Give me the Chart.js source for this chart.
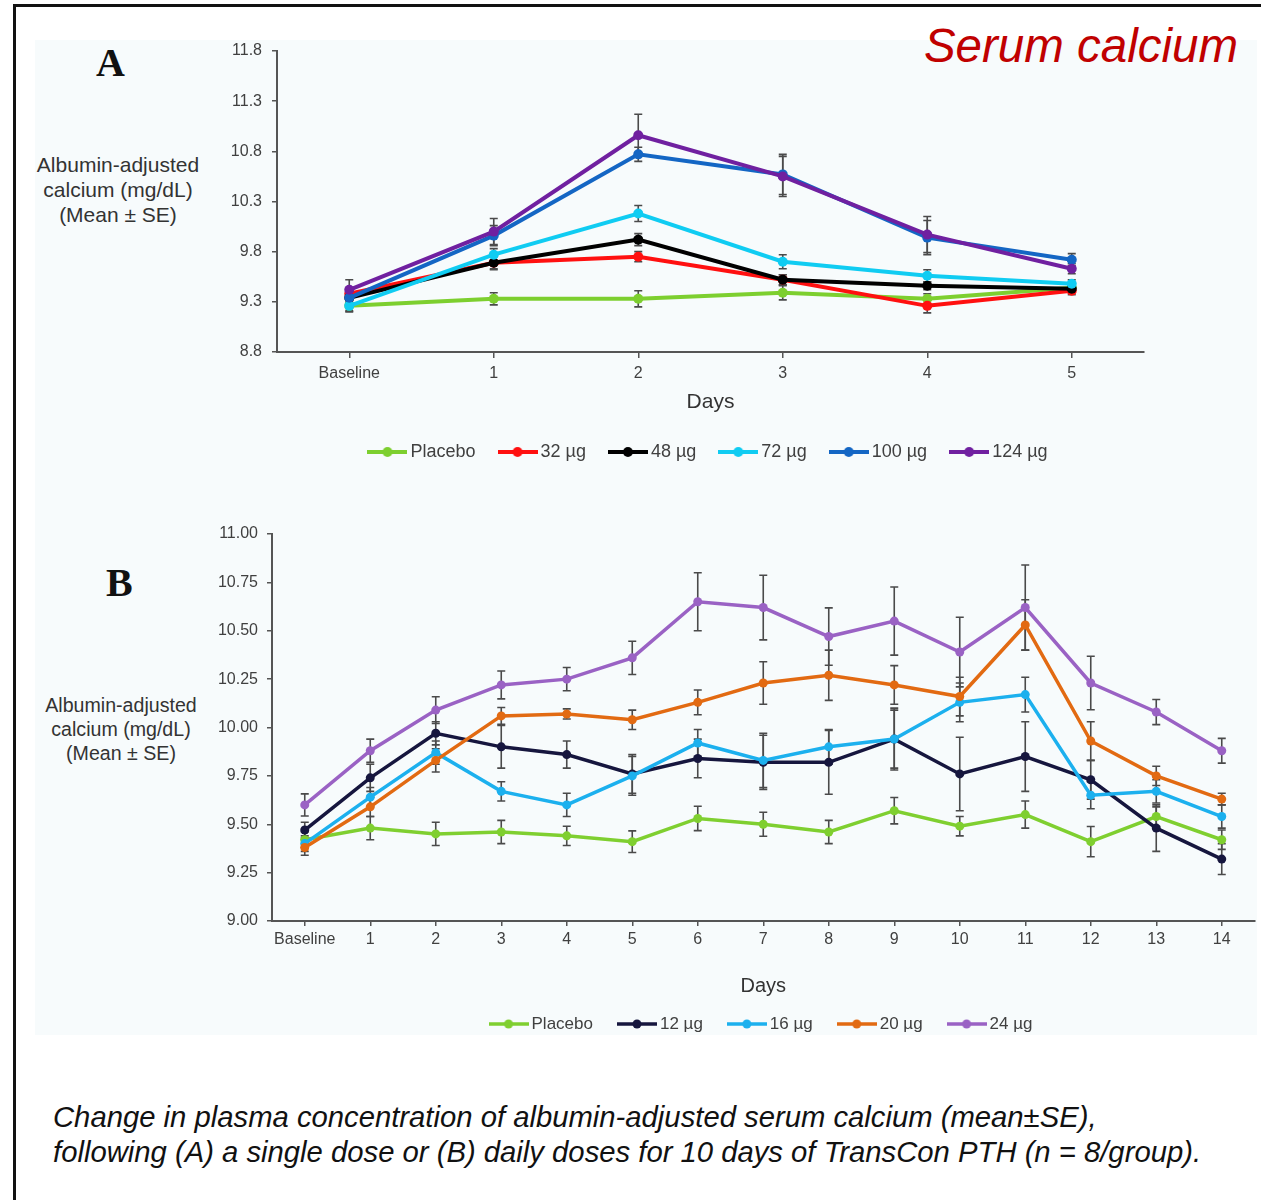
<!DOCTYPE html>
<html>
<head>
<meta charset="utf-8">
<script src="https://cdn.jsdelivr.net/npm/chart.js@4.4.1/dist/chart.umd.min.js"></script>
<style>
html, body { margin: 0; padding: 0; background: #fff; overflow: hidden; }
body { width: 1261px; height: 1200px; position: relative; font-family: "Liberation Sans", Arial, sans-serif; }
#frame { position: absolute; left: 13px; top: 4px; width: 1300px; height: 1300px; border: 3px solid #111; box-sizing: border-box; }
#panel { position: absolute; left: 35px; top: 40px; width: 1222px; height: 995px; background: #f7fbfc; }
.box { position: absolute; }
.ylab { position: absolute; text-align: center; color: #333; white-space: nowrap; }
.letter { position: absolute; font-family: "Liberation Serif", "Times New Roman", serif; font-weight: bold; font-size: 40px; line-height: 40px; color: #111; }
#title { position: absolute; right: 23px; top: 22px; font-size: 47.5px; line-height: 47.5px; font-style: italic; color: #c00000; }
#caption { position: absolute; left: 53px; top: 1100px; font-size: 29.25px; line-height: 35px; font-style: italic; color: #111; white-space: nowrap; }
</style>
</head>
<body>
<div id="frame"></div>
<div id="panel"></div>
<div id="title">Serum calcium</div>
<div class="letter" style="left:96px;top:43px;">A</div>
<div class="letter" style="left:106px;top:563px;">B</div>
<div class="ylab" style="left:18px;width:200px;top:152px;font-size:21px;line-height:25px;">Albumin-adjusted<br>calcium (mg/dL)<br>(Mean ± SE)</div>
<div class="ylab" style="left:21px;width:200px;top:693px;font-size:19.6px;line-height:24px;">Albumin-adjusted<br>calcium (mg/dL)<br>(Mean ± SE)</div>
<div class="box" style="left:30px;top:30px;"><canvas id="chartA" width="1220" height="441"></canvas></div>
<div class="box" style="left:30px;top:500px;"><canvas id="chartB" width="1231" height="543"></canvas></div>
<div id="caption">Change in plasma concentration of albumin-adjusted serum calcium (mean±SE),<br>following (A) a single dose or (B) daily doses for 10 days of TransCon PTH (n = 8/group).</div>

<script>
// ---- panel A: single dose ----
const daysA = ['Baseline', '1', '2', '3', '4', '5'];
const seriesA = ['Placebo', '32 µg', '48 µg', '72 µg', '100 µg', '124 µg'];
const placeboA = [9.26, 9.33, 9.33, 9.39, 9.33, 9.44];
const dose32 = [9.38, 9.69, 9.75, 9.52, 9.26, 9.41];
const dose48 = [9.34, 9.69, 9.92, 9.52, 9.46, 9.43];
const dose72 = [9.26, 9.77, 10.18, 9.70, 9.56, 9.48];
const dose100 = [9.34, 9.96, 10.77, 10.57, 9.94, 9.72];
const dose124 = [9.42, 10.00, 10.96, 10.55, 9.97, 9.63];
const sePlaceboA = [0.05, 0.06, 0.08, 0.07, 0.05, 0.04];
const se32 = [0.05, 0.06, 0.05, 0.05, 0.07, 0.04];
const se48 = [0.05, 0.07, 0.06, 0.05, 0.04, 0.04];
const se72 = [0.06, 0.06, 0.08, 0.07, 0.06, 0.04];
const se100 = [0.05, 0.10, 0.07, 0.20, 0.17, 0.06];
const se124 = [0.10, 0.13, 0.21, 0.20, 0.18, 0.05];
const ticksA = [8.8, 9.3, 9.8, 10.3, 10.8, 11.3, 11.8];

// ---- panel B: daily doses ----
const daysB = ['Baseline', '1', '2', '3', '4', '5', '6', '7', '8', '9', '10', '11', '12', '13', '14'];
const seriesB = ['Placebo', '12 µg', '16 µg', '20 µg', '24 µg'];
const placeboB = [9.42, 9.48, 9.45, 9.46, 9.44, 9.41, 9.53, 9.50, 9.46, 9.57, 9.49, 9.55, 9.41, 9.54, 9.42];
const dose12 = [9.47, 9.74, 9.97, 9.90, 9.86, 9.76, 9.84, 9.82, 9.82, 9.94, 9.76, 9.85, 9.73, 9.48, 9.32];
const dose16 = [9.40, 9.64, 9.87, 9.67, 9.60, 9.75, 9.92, 9.83, 9.90, 9.94, 10.13, 10.17, 9.65, 9.67, 9.54];
const dose20 = [9.38, 9.59, 9.83, 10.06, 10.07, 10.04, 10.13, 10.23, 10.27, 10.22, 10.16, 10.53, 9.93, 9.75, 9.63];
const dose24 = [9.60, 9.88, 10.09, 10.22, 10.25, 10.36, 10.65, 10.62, 10.47, 10.55, 10.39, 10.62, 10.23, 10.08, 9.88];
const sePlaceboB = [0.04, 0.06, 0.06, 0.06, 0.05, 0.056, 0.063, 0.062, 0.06, 0.068, 0.05, 0.07, 0.078, 0.05, 0.05];
const se12 = [0.04, 0.07, 0.06, 0.11, 0.07, 0.10, 0.10, 0.14, 0.165, 0.16, 0.19, 0.18, 0.10, 0.12, 0.08];
const se16 = [0.04, 0.05, 0.06, 0.05, 0.06, 0.10, 0.07, 0.14, 0.09, 0.15, 0.10, 0.09, 0.07, 0.06, 0.06];
const se20 = [0.04, 0.05, 0.06, 0.043, 0.026, 0.05, 0.064, 0.11, 0.13, 0.10, 0.10, 0.13, 0.10, 0.05, 0.03];
const se24 = [0.057, 0.06, 0.069, 0.072, 0.06, 0.086, 0.15, 0.167, 0.148, 0.176, 0.18, 0.22, 0.138, 0.065, 0.064];
const ticksB = [9.00, 9.25, 9.50, 9.75, 10.00, 10.25, 10.50, 10.75, 11.00];

const FONT = '"Liberation Sans", Arial, sans-serif';
const AXIS = '#555';
const TEXT = '#404040';

// line-with-dot key for the legend
function legendKey(color, lw, r) {
    const c = document.createElement('canvas');
    c.width = 40; c.height = 14;
    const g = c.getContext('2d');
    g.strokeStyle = color; g.lineWidth = lw;
    g.beginPath(); g.moveTo(0, 7); g.lineTo(40, 7); g.stroke();
    g.fillStyle = color;
    g.beginPath(); g.arc(20, 7, r, 0, Math.PI * 2); g.fill();
    return c;
}

// vertical SE bars with caps, drawn from the y scale
function errorBars(seLists) {
    return {
        id: 'errorBars',
        beforeDatasetsDraw(chart) {
            const ctx = chart.ctx, y = chart.scales.y;
            ctx.save();
            ctx.strokeStyle = '#4a4a4a';
            ctx.lineWidth = 1.6;
            chart.data.datasets.forEach((ds, i) => {
                const pts = chart.getDatasetMeta(i).data;
                seLists[i].forEach((e, j) => {
                    const x = pts[j].x;
                    const t = y.getPixelForValue(ds.data[j] + e);
                    const b = y.getPixelForValue(ds.data[j] - e);
                    ctx.beginPath();
                    ctx.moveTo(x, t); ctx.lineTo(x, b);
                    ctx.moveTo(x - 4, t); ctx.lineTo(x + 4, t);
                    ctx.moveTo(x - 4, b); ctx.lineTo(x + 4, b);
                    ctx.stroke();
                });
            });
            ctx.restore();
        }
    };
}

function makeChart(id, cfg) {
    const n = cfg.values.length;
    return new Chart(document.getElementById(id), {
        type: 'line',
        data: {
            labels: cfg.labels,
            datasets: cfg.values.map((v, i) => ({
                label: cfg.names[i],
                data: v,
                borderColor: cfg.colors[i],
                backgroundColor: cfg.colors[i],
                borderWidth: cfg.lw,
                pointRadius: cfg.pr,
                pointHoverRadius: cfg.pr,
                pointBorderWidth: 0,
                tension: 0,
                order: n - 1 - i
            }))
        },
        options: {
            responsive: false,
            animation: false,
            events: [],
            layout: {padding: cfg.pad},
            scales: {
                x: {
                    type: 'category',
                    offset: true,
                    afterFit: s => { s.height = cfg.xh; },
                    grid: {display: true, drawOnChartArea: false, offset: false, drawTicks: true,
                           tickLength: cfg.xtl, color: AXIS, lineWidth: 1.5},
                    border: {display: true, color: AXIS, width: 2},
                    ticks: {padding: cfg.xpad, color: TEXT, font: {family: FONT, size: 16}, maxRotation: 0, autoSkip: false},
                    title: {display: true, text: 'Days', color: '#333',
                            font: {family: FONT, size: cfg.dayFont}, padding: {top: 0, bottom: cfg.dayPad}}
                },
                y: {
                    min: cfg.ticks[0],
                    max: cfg.ticks[cfg.ticks.length - 1],
                    afterFit: s => { s.width = 60; },
                    afterBuildTicks: s => { s.ticks = cfg.ticks.map(v => ({value: v})); },
                    grid: {display: true, drawOnChartArea: false, drawTicks: true, tickLength: 5, color: AXIS, lineWidth: 1.5},
                    border: {display: true, color: AXIS, width: 2},
                    ticks: {padding: cfg.ypad, color: TEXT, font: {family: FONT, size: 16},
                            callback: v => Number(v).toFixed(cfg.dec)}
                }
            },
            plugins: {
                tooltip: {enabled: false},
                legend: {
                    position: 'bottom',
                    fullSize: false,
                    labels: {
                        usePointStyle: true,
                        pointStyleWidth: cfg.boxW,
                        padding: cfg.legPad,
                        font: {family: FONT, size: cfg.legFont},
                        color: TEXT,
                        generateLabels: chart => chart.data.datasets.map((ds, i) => ({
                            text: ds.label,
                            datasetIndex: i,
                            pointStyle: legendKey(ds.borderColor, cfg.lw, cfg.pr),
                            fillStyle: ds.borderColor,
                            strokeStyle: ds.borderColor,
                            fontColor: TEXT,
                            lineWidth: 0,
                            hidden: false
                        }))
                    }
                }
            }
        },
        plugins: [errorBars(cfg.se)]
    });
}

makeChart('chartA', {
    labels: daysA,
    names: seriesA,
    values: [placeboA, dose32, dose48, dose72, dose100, dose124],
    se: [sePlaceboA, se32, se48, se72, se100, se124],
    colors: ['#7dcf2f', '#ff1010', '#000000', '#10ccf2', '#1466c4', '#7020a0'],
    ticks: ticksA, dec: 1,
    lw: 4, pr: 5,
    pad: {left: 187, right: 106, top: 21, bottom: 0},
    xh: 63, xtl: 6, xpad: 6, ypad: 10,
    dayFont: 21, dayPad: 0,
    legFont: 18, boxW: 28, legPad: 28
});

makeChart('chartB', {
    labels: daysB,
    names: seriesB,
    values: [placeboB, dose12, dose16, dose20, dose24],
    se: [sePlaceboB, se12, se16, se20, se24],
    colors: ['#7fcf30', '#16163e', '#1cb0ee', '#e26a12', '#9a62c4'],
    ticks: ticksB, dec: 2,
    lw: 3.5, pr: 4.5,
    pad: {left: 182, right: 6.5, top: 34, bottom: 0.5},
    xh: 65, xtl: 5, xpad: 4, ypad: 9,
    dayFont: 20, dayPad: -12,
    legFont: 17, boxW: 29, legPad: 29.5
});
</script>
</body>
</html>
